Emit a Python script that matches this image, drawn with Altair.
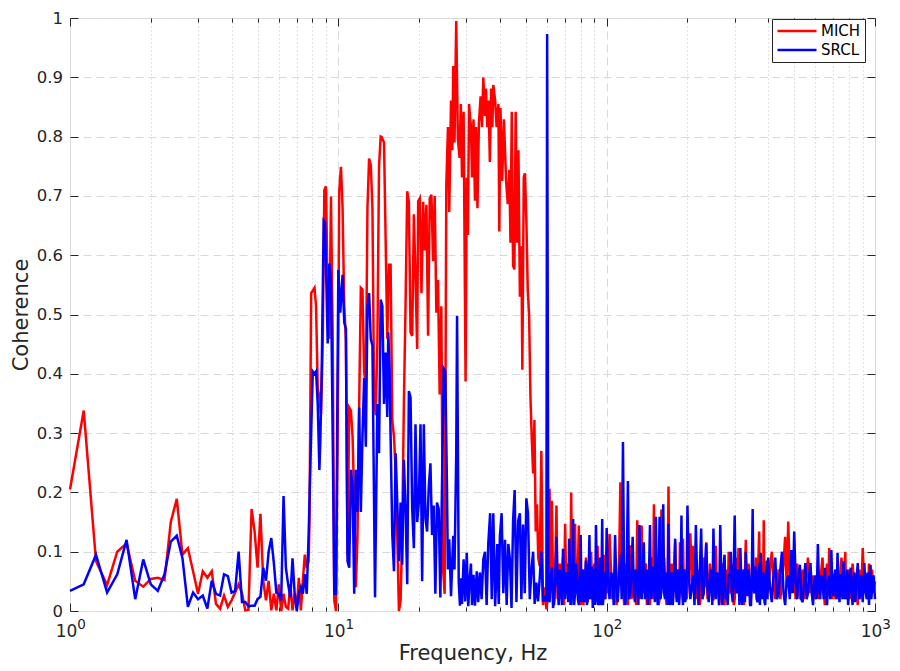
import altair as alt
import pandas as pd

# ---------------- data (coherence vs frequency) ----------------
freq_low = [1.0, 1.125, 1.25, 1.375, 1.5, 1.625, 1.75, 1.875,
            2.0, 2.125, 2.25, 2.375, 2.5, 2.625, 2.75, 2.875,
            3.0, 3.125, 3.25, 3.375, 3.5, 3.625, 3.75, 3.875,
            4.0, 4.125, 4.25, 4.375, 4.5, 4.625, 4.75, 4.875,
            5.0, 5.125, 5.25, 5.375, 5.5, 5.625, 5.75, 5.875,
            6.0, 6.125, 6.25, 6.375, 6.5, 6.625, 6.75, 6.875,
            7.0, 7.125, 7.25, 7.375, 7.5, 7.625, 7.75]
mich_low = [0.205, 0.338, 0.084, 0.044, 0.100, 0.114, 0.051, 0.041,
            0.054, 0.056, 0.052, 0.150, 0.189, 0.095, 0.106, 0.067,
            0.029, 0.067, 0.056, 0.067, 0.012, 0.004, 0.026, 0.007,
            0.018, 0.031, 0.045, 0.030, 0.001, 0.002, 0.172, 0.134,
            0.073, 0.164, 0.051, 0.018, 0.051, 0.001, 0.029, 0.001,
            0.045, 0.0, 0.029, 0.007, 0.004, 0.045, 0.001, 0.029,
            0.007, 0.056, 0.001, 0.051, 0.095, 0.073, 0.084]
srcl_low = [0.034, 0.045, 0.095, 0.031, 0.062, 0.120, 0.020, 0.087,
            0.045, 0.034, 0.062, 0.117, 0.127, 0.089, 0.007, 0.031,
            0.020, 0.026, 0.004, 0.051, 0.029, 0.026, 0.062, 0.059,
            0.031, 0.034, 0.100, 0.015, 0.015, 0.008, 0.009, 0.009,
            0.020, 0.024, 0.073, 0.051, 0.100, 0.123, 0.081, 0.031,
            0.029, 0.018, 0.194, 0.073, 0.045, 0.023, 0.089, 0.029,
            0.0, 0.029, 0.040, 0.029, 0.062, 0.029, 0.128]

mich_mid_f = [7.81, 7.92, 8.15, 8.26, 8.38, 8.50, 8.62, 8.75, 8.87, 9.00,
              9.13, 9.26, 9.39, 9.53, 9.66, 9.80, 9.94, 10.08, 10.23, 10.37,
              10.52, 10.67, 10.82, 10.98, 11.14, 11.30, 11.46, 11.62, 11.79, 11.96,
              12.13, 12.30, 12.48, 12.66, 12.84, 13.02, 13.21, 13.40, 13.59, 13.78,
              13.98, 14.18, 14.38, 14.51, 14.80, 15.01, 15.22, 15.44, 15.66, 15.89,
              16.12, 16.35, 16.58, 16.82, 17.06, 17.30, 17.55, 17.80, 18.06, 18.32,
              18.58, 18.85, 19.12, 19.39, 19.67, 19.84, 20.12, 20.41, 20.71, 21.00,
              21.30, 21.60, 21.91, 22.23, 22.54, 22.86, 23.19, 23.52, 23.86, 24.20,
              24.55, 24.90, 25.26, 25.62, 25.9, 26.3, 26.6, 26.8, 27.1, 27.5,
              27.9, 28.3, 28.6, 28.9, 29.3, 29.8, 30.1, 30.4, 30.7, 31.2,
              31.5, 31.9, 32.3, 32.6, 33.0, 33.4, 33.9, 34.3, 34.7, 35.2,
              35.5, 35.9, 36.3, 36.7, 37.1, 37.5, 37.8, 38.4, 38.9, 39.5,
              39.8, 40.2, 40.8, 41.4, 42.2, 42.8, 43.4, 43.8, 44.3, 44.8,
              45.3, 45.8, 46.4, 46.9, 47.5, 48.1, 48.5, 49.1, 49.6, 50.2,
              50.8, 51.4, 52.0, 52.6, 53.2, 53.8, 54.4, 55.0, 55.6, 56.3,
              57.1, 57.9, 58.8, 59.6]
mich_mid = [0.156, 0.536, 0.545, 0.514, 0.376, 0.360, 0.332, 0.459, 0.710, 0.716,
            0.514, 0.459, 0.699, 0.459, 0.018, 0.0, 0.29, 0.708, 0.749, 0.680,
            0.514, 0.459, 0.095, 0.343, 0.338, 0.294, 0.183, 0.040, 0.128, 0.349,
            0.545, 0.542, 0.404, 0.376, 0.680, 0.763, 0.752, 0.680, 0.365, 0.33,
            0.45, 0.75, 0.80, 0.799, 0.79, 0.624, 0.459, 0.584, 0.584, 0.321,
            0.294, 0.238, 0.128, 0.0, 0.018, 0.128, 0.349, 0.514, 0.708, 0.69,
            0.47, 0.464, 0.669, 0.564, 0.442, 0.691, 0.696, 0.536, 0.69, 0.608,
            0.685, 0.464, 0.696, 0.702, 0.59, 0.70, 0.503, 0.558, 0.365, 0.514,
            0.073, 0.029, 0.718, 0.816, 0.673, 0.861, 0.777, 0.919, 0.79, 0.995,
            0.796, 0.764, 0.855, 0.731, 0.842, 0.387, 0.731, 0.634, 0.855, 0.816,
            0.731, 0.829, 0.692, 0.816, 0.679, 0.822, 0.868, 0.816, 0.9, 0.835,
            0.881, 0.816, 0.861, 0.757, 0.881, 0.816, 0.887, 0.861, 0.816, 0.855,
            0.64, 0.848, 0.725, 0.829, 0.725, 0.686, 0.744, 0.621, 0.842, 0.582,
            0.576, 0.842, 0.621, 0.777, 0.53, 0.615, 0.407, 0.731, 0.738, 0.66,
            0.543, 0.498, 0.361, 0.29, 0.232, 0.322, 0.134, 0.18, 0.089, 0.076,
            0.27, 0.01, 0.04, 0.003]

srcl_mid_f = [7.92, 8.03, 8.15, 8.26, 8.38, 8.50, 8.57, 8.67, 8.82, 8.92,
              9.13, 9.26, 9.39, 9.53, 9.66, 9.80, 10.0, 10.17, 10.37, 10.52,
              10.67, 10.82, 10.98, 11.14, 11.30, 11.46, 11.62, 11.79, 11.96, 12.13,
              12.30, 12.48, 12.66, 12.84, 13.02, 13.21, 13.40, 13.70, 13.98, 14.18,
              14.38, 14.59, 14.80, 15.01, 15.22, 15.35, 15.53, 15.66, 15.89, 16.12,
              16.35, 16.58, 16.82, 17.06, 17.30, 17.55, 17.80, 18.06, 18.32, 18.58,
              18.85, 19.12, 19.39, 19.67, 19.95, 20.24, 20.53, 20.82, 21.12, 21.42,
              21.73, 22.04, 22.35, 22.67, 22.99, 23.32, 23.66, 24.00, 24.34, 24.69,
              25.04, 25.40, 25.6, 25.9, 26.3, 26.8, 27.1, 27.5, 27.7, 28.1,
              28.4, 28.7, 28.9, 29.3, 29.7, 30.1, 30.5, 30.8, 31.2, 31.5,
              31.9, 32.3, 32.8, 33.2, 33.7, 34.2, 34.7, 35.2, 35.7, 36.2,
              36.8, 37.3, 37.8, 38.4, 38.7, 39.1, 39.6, 40.0, 40.6, 41.2,
              41.8, 42.4, 43.0, 43.6, 44.2, 44.8, 45.4, 46.1, 46.8, 47.5,
              48.1, 48.8, 49.5, 50.2, 50.9, 51.7, 52.4, 53.2, 53.9, 54.7,
              55.5, 56.3, 57.1, 57.9, 58.8, 59.6]
srcl_mid = [0.30, 0.404, 0.40, 0.404, 0.349, 0.238, 0.29, 0.404, 0.658, 0.655,
            0.451, 0.586, 0.558, 0.29, 0.029, 0.029, 0.575, 0.503, 0.567, 0.487,
            0.476, 0.084, 0.073, 0.238, 0.21, 0.029, 0.238, 0.167, 0.343, 0.167,
            0.294, 0.393, 0.277, 0.514, 0.536, 0.459, 0.448, 0.023, 0.349, 0.266,
            0.525, 0.514, 0.349, 0.436, 0.327, 0.47, 0.404, 0.294, 0.128, 0.067,
            0.266, 0.183, 0.084, 0.183, 0.078, 0.255, 0.172, 0.045, 0.371, 0.36,
            0.172, 0.106, 0.315, 0.15, 0.183, 0.315, 0.05, 0.315, 0.156, 0.134,
            0.21, 0.249, 0.128, 0.178, 0.029, 0.183, 0.172, 0.023, 0.21, 0.409,
            0.404, 0.21, 0.07, 0.121, 0.025, 0.127, 0.07, 0.264, 0.498, 0.048,
            0.009, 0.055, 0.012, 0.087, 0.016, 0.098, 0.008, 0.048, 0.08, 0.01,
            0.061, 0.009, 0.067, 0.015, 0.065, 0.02, 0.087, 0.1, 0.01, 0.113,
            0.165, 0.02, 0.165, 0.008, 0.048, 0.113, 0.012, 0.126, 0.165, 0.03,
            0.12, 0.01, 0.113, 0.087, 0.005, 0.152, 0.204, 0.015, 0.152, 0.165,
            0.02, 0.146, 0.03, 0.19, 0.165, 0.02, 0.067, 0.1, 0.012, 0.048,
            0.016, 0.055, 0.1, 0.016, 0.022, 0.016]

# above 60 Hz: dense noise floor, sampled on bins and half-bins
hf_f1 = [60, 61.25, 62.5, 63.75, 65, 66.25, 67.5, 68.75, 70, 71.25,
         72.5, 73.75, 75, 76.25, 77.5, 78.75, 80, 81.25, 82.5, 83.75,
         85, 86.25, 87.5, 88.75, 90, 91.25, 92.5, 93.75, 95, 96.25,
         97.5, 98.75]
mich_h1 = [0.012, 0.206, 0.186, 0.01, 0.178, 0.05, 0.02, 0.09, 0.147, 0.03,
           0.06, 0.2, 0.02, 0.147, 0.04, 0.144, 0.01, 0.07, 0.03, 0.09,
           0.015, 0.06, 0.1, 0.02, 0.08, 0.04, 0.11, 0.01, 0.07, 0.03,
           0.095, 0.02]
srcl_h1 = [0.973, 0.015, 0.073, 0.02, 0.125, 0.01, 0.05, 0.105, 0.02, 0.06,
           0.122, 0.01, 0.155, 0.03, 0.055, 0.01, 0.128, 0.04, 0.015, 0.085,
           0.02, 0.128, 0.05, 0.005, 0.07, 0.145, 0.02, 0.06, 0.01, 0.155,
           0.035, 0.02]
hf_m1 = [60.625, 61.875, 63.125, 64.375, 65.625, 66.875, 68.125, 69.375, 70.625, 71.875,
         73.125, 74.375, 75.625, 76.875, 78.125, 79.375, 80.625, 81.875, 83.125, 84.375,
         85.625, 86.875, 88.125, 89.375, 90.625, 91.875, 93.125, 94.375, 95.625, 96.875,
         98.125, 99.375]
mich_m1 = [0.09, 0.05, 0.04, 0.07, 0.02, 0.08, 0.06, 0.01, 0.05, 0.08,
           0.01, 0.06, 0.08, 0.03, 0.07, 0.04, 0.05, 0.01, 0.06, 0.035,
           0.08, 0.02, 0.05, 0.065, 0.015, 0.07, 0.03, 0.05, 0.01, 0.07,
           0.04, 0.06]
srcl_m1 = [0.02, 0.06, 0.005, 0.06, 0.045, 0.07, 0.01, 0.05, 0.065, 0.015,
           0.06, 0.04, 0.01, 0.08, 0.02, 0.06, 0.015, 0.07, 0.045, 0.01,
           0.06, 0.02, 0.075, 0.04, 0.01, 0.06, 0.01, 0.09, 0.05, 0.01,
           0.065, 0.05]

hf_f2 = [100, 102.5, 105, 107.5, 110, 112.5, 115, 117.5, 120, 122.5,
         125, 127.5, 130, 132.5, 135, 137.5, 140, 142.5, 145, 147.5,
         150, 152.5, 155, 157.5, 160, 162.5, 165, 167.5, 170, 172.5,
         175, 177.5, 180, 182.5, 185, 187.5, 190, 192.5, 195, 197.5]
mich_h2 = [0.06, 0.13, 0.02, 0.07, 0.03, 0.217, 0.04, 0.08, 0.01, 0.111,
           0.04, 0.07, 0.153, 0.02, 0.144, 0.03, 0.08, 0.06, 0.01, 0.09,
           0.18, 0.03, 0.07, 0.02, 0.171, 0.04, 0.06, 0.01, 0.21, 0.03,
           0.08, 0.05, 0.116, 0.02, 0.07, 0.116, 0.03, 0.122, 0.02, 0.07]
srcl_h2 = [0.14, 0.02, 0.06, 0.128, 0.015, 0.095, 0.285, 0.01, 0.219, 0.03,
           0.125, 0.015, 0.06, 0.145, 0.02, 0.116, 0.045, 0.01, 0.145, 0.03,
           0.06, 0.159, 0.01, 0.159, 0.035, 0.18, 0.02, 0.05, 0.147, 0.01,
           0.065, 0.03, 0.122, 0.015, 0.07, 0.04, 0.161, 0.01, 0.06, 0.025]
hf_m2 = [101.25, 103.75, 106.25, 108.75, 111.25, 113.75, 116.25, 118.75, 121.25, 123.75,
         126.25, 128.75, 131.25, 133.75, 136.25, 138.75, 141.25, 143.75, 146.25, 148.75,
         151.25, 153.75, 156.25, 158.75, 161.25, 163.75, 166.25, 168.75, 171.25, 173.75,
         176.25, 178.75, 181.25, 183.75, 186.25, 188.75, 191.25, 193.75, 196.25, 198.75]
mich_m2 = [0.03, 0.07, 0.05, 0.01, 0.08, 0.06, 0.01, 0.04, 0.07, 0.02,
           0.06, 0.01, 0.05, 0.08, 0.04, 0.07, 0.01, 0.03, 0.06, 0.02,
           0.05, 0.08, 0.01, 0.06, 0.04, 0.09, 0.02, 0.05, 0.04, 0.07,
           0.01, 0.08, 0.05, 0.04, 0.02, 0.05, 0.07, 0.04, 0.06, 0.02]
srcl_m2 = [0.05, 0.065, 0.01, 0.04, 0.06, 0.02, 0.03, 0.06, 0.02, 0.07,
           0.03, 0.07, 0.01, 0.04, 0.07, 0.02, 0.07, 0.06, 0.02, 0.075,
           0.015, 0.04, 0.06, 0.02, 0.07, 0.03, 0.065, 0.01, 0.04, 0.06,
           0.01, 0.07, 0.04, 0.06, 0.01, 0.065, 0.03, 0.07, 0.015, 0.06]

hf_f3 = [200, 205, 210, 215, 220, 225, 230, 235, 240, 245,
         250, 255, 260, 265, 270, 275, 280, 285, 290, 295,
         300, 305, 310, 315, 320, 325, 330, 335, 340, 345,
         350, 355, 360, 365, 370, 375, 380, 385, 390, 395]
mich_h3 = [0.04, 0.131, 0.11, 0.02, 0.07, 0.04, 0.09, 0.116, 0.03, 0.06,
           0.02, 0.11, 0.05, 0.03, 0.08, 0.01, 0.07, 0.10, 0.04, 0.06,
           0.02, 0.09, 0.106, 0.03, 0.06, 0.01, 0.12, 0.04, 0.07, 0.02,
           0.06, 0.03, 0.09, 0.05, 0.134, 0.02, 0.07, 0.153, 0.03, 0.06]
srcl_h3 = [0.178, 0.02, 0.06, 0.145, 0.01, 0.139, 0.03, 0.114, 0.015, 0.07,
           0.139, 0.02, 0.05, 0.145, 0.01, 0.095, 0.035, 0.06, 0.10, 0.015,
           0.161, 0.03, 0.06, 0.106, 0.01, 0.07, 0.10, 0.025, 0.055, 0.01,
           0.172, 0.03, 0.065, 0.015, 0.08, 0.098, 0.02, 0.06, 0.01, 0.085]
hf_m3 = [202.5, 207.5, 212.5, 217.5, 222.5, 227.5, 232.5, 237.5, 242.5, 247.5,
         252.5, 257.5, 262.5, 267.5, 272.5, 277.5, 282.5, 287.5, 292.5, 297.5,
         302.5, 307.5, 312.5, 317.5, 322.5, 327.5, 332.5, 337.5, 342.5, 347.5,
         352.5, 357.5, 362.5, 367.5, 372.5, 377.5, 382.5, 387.5, 392.5, 397.5]
mich_m3 = [0.07, 0.05, 0.05, 0.06, 0.01, 0.07, 0.04, 0.02, 0.08, 0.02,
           0.06, 0.04, 0.01, 0.07, 0.03, 0.05, 0.02, 0.03, 0.08, 0.01,
           0.06, 0.05, 0.02, 0.07, 0.02, 0.06, 0.03, 0.08, 0.01, 0.05,
           0.07, 0.05, 0.02, 0.08, 0.04, 0.05, 0.03, 0.02, 0.07, 0.03]
srcl_m3 = [0.06, 0.04, 0.01, 0.05, 0.07, 0.02, 0.07, 0.04, 0.05, 0.01,
           0.04, 0.065, 0.01, 0.05, 0.07, 0.02, 0.01, 0.06, 0.03, 0.07,
           0.04, 0.07, 0.01, 0.05, 0.06, 0.015, 0.04, 0.07, 0.01, 0.06,
           0.04, 0.075, 0.02, 0.06, 0.01, 0.04, 0.065, 0.015, 0.06, 0.02]

hf_f4 = [400, 412.5, 425, 437.5, 450, 462.5, 475, 487.5, 500, 512.5,
         525, 537.5, 550, 562.5, 575, 587.5, 600, 612.5, 625, 637.5,
         650, 662.5, 675, 687.5, 700, 712.5, 725, 737.5, 750, 762.5,
         775, 787.5, 800, 812.5, 825, 837.5, 850, 862.5, 875, 887.5,
         900, 912.5, 925, 937.5, 950, 962.5, 975, 987.5, 1000]
mich_h4 = [0.04, 0.10, 0.02, 0.07, 0.05, 0.125, 0.151, 0.03, 0.06, 0.08,
           0.02, 0.07, 0.04, 0.09, 0.03, 0.06, 0.02, 0.07, 0.05, 0.09,
           0.01, 0.08, 0.106, 0.03, 0.06, 0.02, 0.07, 0.05, 0.09, 0.02,
           0.10, 0.04, 0.07, 0.02, 0.08, 0.03, 0.06, 0.01, 0.07, 0.04,
           0.106, 0.03, 0.06, 0.02, 0.08, 0.04, 0.07, 0.03, 0.05]
srcl_h4 = [0.09, 0.015, 0.09, 0.03, 0.10, 0.01, 0.06, 0.103, 0.134, 0.02,
           0.078, 0.015, 0.081, 0.03, 0.081, 0.01, 0.06, 0.113, 0.02, 0.055,
           0.073, 0.01, 0.06, 0.103, 0.025, 0.07, 0.098, 0.015, 0.06, 0.084,
           0.02, 0.07, 0.03, 0.073, 0.01, 0.065, 0.04, 0.081, 0.02, 0.06,
           0.015, 0.081, 0.03, 0.065, 0.01, 0.078, 0.035, 0.06, 0.02]
hf_m4 = [406.25, 418.75, 431.25, 443.75, 456.25, 468.75, 481.25, 493.75, 506.25, 518.75,
         531.25, 543.75, 556.25, 568.75, 581.25, 593.75, 606.25, 618.75, 631.25, 643.75,
         656.25, 668.75, 681.25, 693.75, 706.25, 718.75, 731.25, 743.75, 756.25, 768.75,
         781.25, 793.75, 806.25, 818.75, 831.25, 843.75, 856.25, 868.75, 881.25, 893.75,
         906.25, 918.75, 931.25, 943.75, 956.25, 968.75, 981.25, 993.75]
mich_m4 = [0.07, 0.05, 0.04, 0.02, 0.08, 0.04, 0.06, 0.05, 0.02, 0.04,
           0.05, 0.02, 0.06, 0.05, 0.04, 0.03, 0.05, 0.02, 0.07, 0.04,
           0.05, 0.03, 0.05, 0.02, 0.04, 0.05, 0.02, 0.07, 0.05, 0.06,
           0.02, 0.05, 0.04, 0.05, 0.06, 0.02, 0.03, 0.05, 0.02, 0.06,
           0.07, 0.04, 0.05, 0.04, 0.06, 0.05, 0.05, 0.04]
srcl_m4 = [0.04, 0.06, 0.02, 0.07, 0.03, 0.05, 0.02, 0.03, 0.05, 0.06,
           0.02, 0.05, 0.02, 0.06, 0.03, 0.05, 0.02, 0.04, 0.06, 0.02,
           0.04, 0.05, 0.02, 0.04, 0.06, 0.02, 0.04, 0.06, 0.02, 0.04,
           0.05, 0.01, 0.06, 0.03, 0.05, 0.015, 0.06, 0.04, 0.03, 0.05,
           0.04, 0.05, 0.02, 0.04, 0.06, 0.02, 0.055, 0.04]

series_names = ["MICH", "SRCL"]
series_colors = ["#ff0000", "#0000ff"]

# axis tick positions
x_major = [1, 10, 100, 1000]
x_minor = [2, 3, 4, 5, 6, 7, 8, 9, 20, 30, 40, 50, 60, 70, 80, 90,
           200, 300, 400, 500, 600, 700, 800, 900]
y_ticks = [0, 0.1, 0.2, 0.3, 0.4, 0.5, 0.6, 0.7, 0.8, 0.9, 1.0]


def build(name, parts):
    rows = []
    for fs, vs in parts:
        assert len(fs) == len(vs), (name, len(fs), len(vs))
        rows += [{"f": f, "coh": v, "series": name} for f, v in zip(fs, vs)]
    return rows


df = pd.DataFrame(
    build("MICH", [(freq_low, mich_low), (mich_mid_f, mich_mid),
                   (hf_f1, mich_h1), (hf_m1, mich_m1), (hf_f2, mich_h2), (hf_m2, mich_m2),
                   (hf_f3, mich_h3), (hf_m3, mich_m3), (hf_f4, mich_h4), (hf_m4, mich_m4)])
    + build("SRCL", [(freq_low, srcl_low), (srcl_mid_f, srcl_mid),
                     (hf_f1, srcl_h1), (hf_m1, srcl_m1), (hf_f2, srcl_h2), (hf_m2, srcl_m2),
                     (hf_f3, srcl_h3), (hf_m3, srcl_m3), (hf_f4, srcl_h4), (hf_m4, srcl_m4)])
).sort_values(["series", "f"]).reset_index(drop=True)

# ---------------- styling ----------------
FONT = "DejaVu Sans"
INK = "#262626"
GRID = "#d9d9d9"
LW = 2.5

xs = alt.Scale(type="log", domain=[1, 1000], nice=False)
ys = alt.Scale(domain=[0, 1], nice=False, zero=False)
cs = alt.Scale(domain=series_names, range=series_colors)


def bare(**kw):
    base = dict(labels=False, ticks=False, grid=False, domain=False, title=None,
                tickColor=INK, tickWidth=1)
    base.update(kw)
    return alt.Axis(**base)


legend = alt.Legend(
    title=None, orient="none", legendX=702, legendY=1, direction="vertical",
    symbolType="M-1,0H5", symbolSize=169, symbolStrokeWidth=LW,
    labelFont=FONT, labelFontSize=15, labelColor="#000000", labelOffset=29,
    padding=4, rowPadding=3, strokeColor=INK, fillColor="#ffffff", cornerRadius=0,
)

x_main = alt.Axis(
    orient="bottom", values=x_major, labelExpr="'10'", labelFont=FONT,
    labelFontSize=17, labelColor=INK, labelPadding=12, labelOffset=-4,
    labelFlush=False, labelOverlap=False, ticks=False, tickSize=0, domain=False,
    grid=True, gridColor=GRID, gridDash=[8, 5], gridWidth=1,
    title="Frequency, Hz", titleFont=FONT, titleFontSize=21,
    titleFontWeight="normal", titleColor=INK, titlePadding=3,
)
y_main = alt.Axis(
    orient="left", values=y_ticks, format="~g", labelFont=FONT, labelFontSize=16.5,
    labelColor=INK, labelPadding=7.5, ticks=False, tickSize=0, domain=False,
    grid=True, gridColor=GRID, gridDash=[8, 5], gridWidth=1,
    title="Coherence", titleFont=FONT, titleFontSize=21, titleFontWeight="normal",
    titleColor=INK, titlePadding=5,
)

mich = alt.Chart(df).transform_filter(alt.datum.series == "MICH").mark_line(
    strokeWidth=LW).encode(
    x=alt.X("f:Q", scale=xs, axis=x_main),
    y=alt.Y("coh:Q", scale=ys, axis=y_main),
    color=alt.Color("series:N", scale=cs, legend=legend),
)

srcl = alt.Chart(df).transform_filter(alt.datum.series == "SRCL").mark_line(
    strokeWidth=LW).encode(
    x=alt.X("f:Q", scale=xs, axis=bare(orient="bottom", values=x_minor, grid=True,
                                       gridColor="#c4c4c4", gridDash=[1, 3], gridWidth=1)),
    y=alt.Y("coh:Q", scale=ys, axis=bare(orient="right", values=y_ticks, ticks=True,
                                         tickSize=8, offset=-8)),
    color=alt.Color("series:N", scale=cs, legend=legend),
)


def helper(xaxis, yaxis):
    return alt.Chart(df).mark_point(opacity=0, size=1).encode(
        x=alt.X("f:Q", scale=xs, axis=xaxis),
        y=alt.Y("coh:Q", scale=ys, axis=yaxis),
    )


h1 = helper(bare(orient="bottom", values=x_major, ticks=True, tickSize=8, offset=-8),
            bare(orient="left", values=y_ticks, ticks=True, tickSize=8, offset=-8))
h2 = helper(bare(orient="bottom", values=x_minor, ticks=True, tickSize=4, offset=-4), None)
h3 = helper(bare(orient="top", values=x_major, ticks=True, tickSize=8, offset=-8), None)
h4 = helper(bare(orient="top", values=x_minor, ticks=True, tickSize=4, offset=-4), None)
h5 = helper(bare(orient="bottom", values=x_major, labels=True, tickSize=0,
                 labelExpr="datum.value == 1 ? '0' : datum.value == 10 ? '1' : datum.value == 100 ? '2' : '3'",
                 labelFont=FONT, labelFontSize=13.5, labelColor=INK, labelPadding=6,
                 labelOffset=11, labelFlush=False, labelOverlap=False), None)

chart = alt.layer(h1, h2, h3, h4, h5, mich, srcl).resolve_axis(
    x="independent", y="independent"
).properties(
    width=805, height=593,
    autosize=alt.AutoSizeParams(type="none"),
    padding={"left": 62, "top": 10, "right": 17, "bottom": 55},
).configure_view(stroke=INK, strokeWidth=1).configure(font=FONT)

chart.save("out.html", embed_options={"renderer": "svg", "actions": False})
